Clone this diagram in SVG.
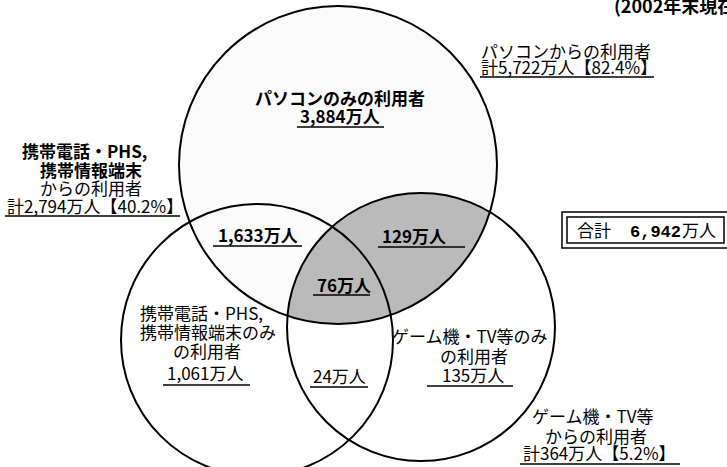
<svg xmlns="http://www.w3.org/2000/svg" width="727" height="467" viewBox="0 0 727 467">
<style>
.t{font-family:"Noto Sans CJK JP","Noto Sans",sans-serif;font-size:17px;fill:#000}
.b{font-weight:bold}
.m{font-family:"Liberation Mono","Noto Sans CJK JP",monospace}
.c{fill:none;stroke:#000;stroke-width:2}
.u{stroke:#000;stroke-width:1.5}
</style>
<defs>
<clipPath id="pcClip"><circle cx="338" cy="165" r="159"/></clipPath>
</defs>
<rect width="727" height="467" fill="#fff"/>
<g id="shading">
<circle cx="338" cy="165" r="159" fill="#fbfbfb"/>
<circle cx="421" cy="327" r="134" fill="#bababa" clip-path="url(#pcClip)"/>
</g>
<g id="circle-pc"><circle class="c" cx="338" cy="165" r="159"/></g>
<g id="circle-mobile"><circle class="c" cx="257" cy="340" r="136"/></g>
<g id="circle-game"><circle class="c" cx="421" cy="327" r="134"/></g>
<g id="connectors"></g>
<g id="note"><text class="t b" x="614" y="13" style="font-size:18px">(2002年末現在)</text></g>
<g id="pc-total">
<text class="t" x="481" y="58">パソコンからの利用者</text>
<text class="t" x="481" y="74">計5,722万人【82.4%】</text>
<line class="u" x1="480" y1="77" x2="654" y2="77"/>
</g>
<g id="mobile-total">
<text class="t b" x="22" y="158">携帯電話・PHS,</text>
<text class="t b" x="40" y="177">携帯情報端末</text>
<text class="t" x="40" y="195">からの利用者</text>
<text class="t" x="7" y="213">計2,794万人【40.2%】</text>
<line class="u" x1="5" y1="216" x2="180" y2="216"/>
</g>
<g id="pc-only">
<text class="t b" x="255" y="105">パソコンのみの利用者</text>
<text class="t b" x="300" y="123">3,884万人</text>
<line class="u" x1="297" y1="127" x2="384" y2="127"/>
</g>
<g id="pc-mobile">
<text class="t b" x="218" y="242">1,633万人</text>
<line class="u" x1="213" y1="246" x2="302" y2="246"/>
</g>
<g id="pc-game">
<text class="t b" x="382" y="243">129万人</text>
<line class="u" x1="378" y1="247" x2="465" y2="247"/>
</g>
<g id="all-three">
<text class="t b" x="317" y="292">76万人</text>
<line class="u" x1="313" y1="295" x2="370" y2="295"/>
</g>
<g id="mobile-only">
<text class="t" x="140" y="320">携帯電話・PHS,</text>
<text class="t" x="140" y="339">携帯情報端末のみ</text>
<text class="t" x="173" y="358">の利用者</text>
<text class="t" x="167" y="380">1,061万人</text>
<line class="u" x1="163" y1="385" x2="250" y2="385"/>
</g>
<g id="mobile-game">
<text class="t" x="313" y="383">24万人</text>
<line class="u" x1="310" y1="387" x2="368" y2="387"/>
</g>
<g id="game-only">
<text class="t" x="392" y="343">ゲーム機・TV等のみ</text>
<text class="t" x="440" y="363">の利用者</text>
<text class="t" x="442" y="382">135万人</text>
<line class="u" x1="427" y1="386" x2="513" y2="386"/>
</g>
<g id="game-total">
<text class="t" x="532" y="423">ゲーム機・TV等</text>
<text class="t" x="545" y="443">からの利用者</text>
<text class="t" x="523" y="460">計364万人【5.2%】</text>
<line class="u" x1="520" y1="464" x2="680" y2="464"/>
</g>
<g id="total-box">
<rect x="562" y="212" width="170" height="36" fill="#fff" stroke="#000" stroke-width="1.5"/>
<rect x="567" y="217" width="157" height="26" fill="none" stroke="#000" stroke-width="1.5"/>
<text class="t" x="577" y="237">合計</text>
<text class="t m b" x="630" y="237">6,942</text>
<text class="t" x="682" y="237">万人</text>
</g>
</svg>
